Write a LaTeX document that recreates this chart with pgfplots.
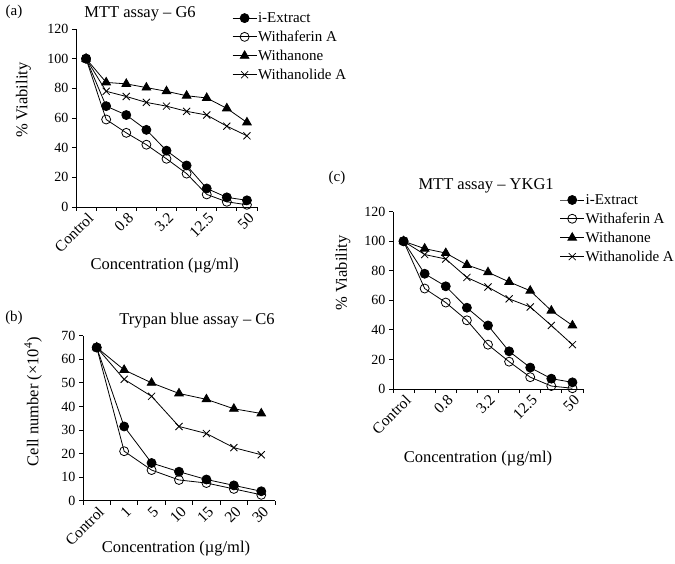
\documentclass[border=0pt]{standalone}
\usepackage{pgfplots}
\pgfplotsset{compat=1.18}
\usepackage{fontspec}
\setmainfont{Liberation Serif}
\pgfplotsset{
  panel/.style={
    scale only axis,
    axis x line*=bottom, axis y line*=left,
    axis line style={-, line width=0.8pt},
    tick align=outside,
    xmin=-0.5, ymin=0,
    major tick length=4pt, minor tick length=4pt,
    major x tick style={draw=none},
    minor x tick style={draw=black, line width=0.8pt},
    ytick style={draw=black, line width=0.8pt},
    y tick label style={font=\fontsize{14}{16}\selectfont},
    x tick label style={font=\fontsize{15.5}{18}\selectfont, rotate=45, anchor=north east, inner sep=1pt, xshift=1pt},
    label style={font=\fontsize{16.5}{19}\selectfont},
    title style={font=\fontsize{16.5}{19}\selectfont, anchor=center, yshift=-6pt},
    legend style={draw=none, fill=none, font=\fontsize{15}{18}\selectfont, row sep=5pt, inner sep=0pt, anchor=north west, nodes={inner sep=1pt}},
    legend cell align=left,
    legend image code/.code={\draw[mark repeat=2,mark phase=2,##1] plot coordinates {(0pt,0pt)(12pt,0pt)(24pt,0pt)};},
    /pgf/number format/assume math mode=true,
    every axis plot/.append style={black, line width=0.8pt},
    clip=false,
  },
  s1/.style={mark=*, mark size=4.5pt, mark options={fill=black}},
  s2/.style={mark=o, mark size=4.5pt, mark options={fill=white}},
  s3/.style={mark=triangle*, mark size=5pt, mark options={fill=black}},
  s4/.style={mark=x, mark size=5pt},
}
\begin{document}
\begin{tikzpicture}
\path[use as bounding box] (0,0) rectangle (675pt,563pt);
\node[font=\fontsize{15}{18}\selectfont] at (14pt,551pt) {(a)};
\node[font=\fontsize{15}{18}\selectfont] at (14pt,245pt) {(b)};
\node[font=\fontsize{15}{18}\selectfont] at (337pt,385pt) {(c)};

% (a)
\begin{axis}[panel,
  at={(76pt,356pt)}, anchor=south west,
  width=181pt, height=178pt,
  xmax=8.5, ymax=120,
  ytick={0,20,...,120},
  xtick={0,2,4,6,8},
  xticklabels={Control,0.8,3.2,12.5,50},
  minor xtick={-0.5,0.5,...,8.5},
  title={MTT assay -- G6},
  title style={at={(axis description cs:0.354,1.084)}},
  xlabel={Concentration (µg/ml)},
  xlabel style={at={(axis description cs:0.49,-0.33)}, anchor=center},
  ylabel={\% Viability},
  ylabel style={at={(axis description cs:-0.29,0.6)}, anchor=center},
  legend style={at={(axis description cs:0.862,1.10)}},
]
\addplot[s1] coordinates {(0,100)(1,68)(2,62)(3,52)(4,38)(5,28)(6,12.5)(7,6.5)(8,4.5)};
\addplot[s2] coordinates {(0,100)(1,59)(2,50)(3,42)(4,32.5)(5,22.5)(6,8.5)(7,3.5)(8,1.5)};
\addplot[s3] coordinates {(0,100)(1,84)(2,83)(3,80.5)(4,78)(5,75)(6,73.5)(7,66.5)(8,57)};
\addplot[s4] coordinates {(0,100)(1,78)(2,74.5)(3,70.5)(4,68)(5,64.5)(6,62)(7,54.5)(8,48)};
\legend{i-Extract,Withaferin A,Withanone,Withanolide A}
\end{axis}

% (b)
\begin{axis}[panel,
  at={(83pt,62.3pt)}, anchor=south west,
  width=192pt, height=165pt,
  xmax=6.5, ymax=70,
  ytick={0,10,...,70},
  xtick={0,1,...,6},
  xticklabels={Control,1,5,10,15,20,30},
  minor xtick={-0.5,0.5,...,6.5},
  title={Trypan blue assay -- C6},
  title style={at={(axis description cs:0.594,1.089)}},
  xlabel={Concentration (µg/ml)},
  xlabel style={at={(axis description cs:0.484,-0.29)}, anchor=center},
  ylabel={Cell number (×10\textsuperscript{4})},
  ylabel style={at={(axis description cs:-0.26,0.6)}, anchor=center},
]
\addplot[s1] coordinates {(0,65)(1,31.5)(2,16)(3,12.3)(4,9)(5,6.5)(6,4)};
\addplot[s2] coordinates {(0,65)(1,21)(2,13)(3,8.8)(4,7.5)(5,5)(6,2.5)};
\addplot[s3] coordinates {(0,65)(1,55.5)(2,50)(3,45.5)(4,43)(5,39)(6,37)};
\addplot[s4] coordinates {(0,65)(1,51.5)(2,44.3)(3,31.5)(4,28.5)(5,22.5)(6,19.5)};
\end{axis}

% (c)
\begin{axis}[panel,
  at={(393pt,174pt)}, anchor=south west,
  width=190pt, height=177.3pt,
  xmax=8.5, ymax=120,
  ytick={0,20,...,120},
  xtick={0,2,4,6,8},
  xticklabels={Control,0.8,3.2,12.5,50},
  minor xtick={-0.5,0.5,...,8.5},
  title={MTT assay -- YKG1},
  title style={at={(axis description cs:0.49,1.145)}},
  xlabel={Concentration (µg/ml)},
  xlabel style={at={(axis description cs:0.447,-0.39)}, anchor=center},
  ylabel={\% Viability},
  ylabel style={at={(axis description cs:-0.263,0.654)}, anchor=center},
  legend style={at={(axis description cs:0.877,1.105)}},
]
\addplot[s1] coordinates {(0,100)(1,78)(2,69.5)(3,55)(4,43)(5,25.5)(6,14.5)(7,7)(8,4.5)};
\addplot[s2] coordinates {(0,100)(1,68)(2,58.5)(3,46.5)(4,30)(5,18.5)(6,8)(7,2)(8,0.5)};
\addplot[s3] coordinates {(0,100)(1,95)(2,92)(3,84)(4,79)(5,72.5)(6,66.5)(7,53)(8,43)};
\addplot[s4] coordinates {(0,100)(1,91)(2,88)(3,75.5)(4,69)(5,61)(6,55.5)(7,43)(8,30)};
\legend{i-Extract,Withaferin A,Withanone,Withanolide A}
\end{axis}
\end{tikzpicture}
\end{document}
